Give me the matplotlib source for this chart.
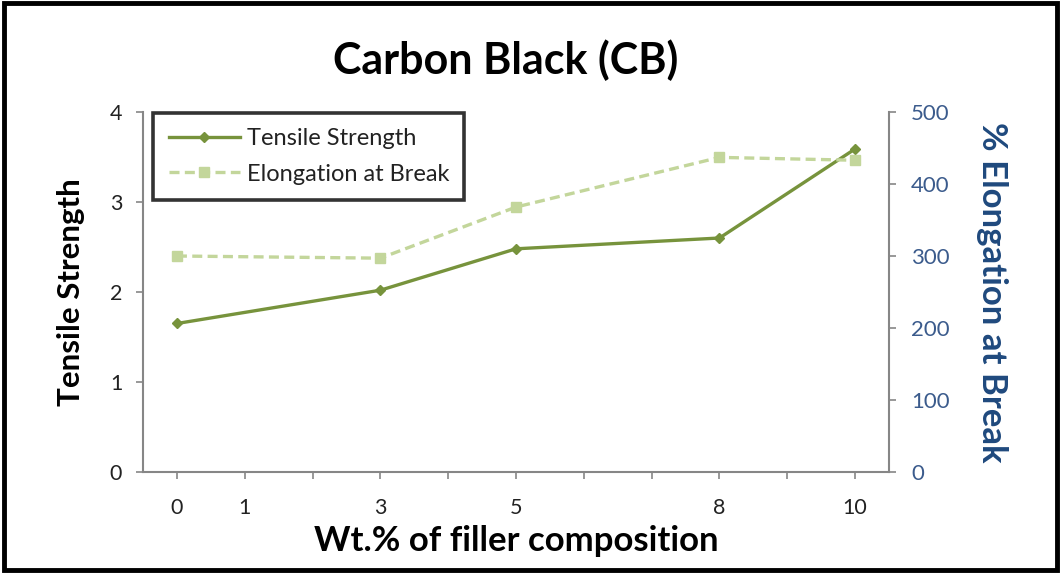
import matplotlib
matplotlib.use("Agg")
import matplotlib.pyplot as plt
from matplotlib.patches import Rectangle

# Data
filler_wt = [0, 3, 5, 8, 10]
tensile = [1.65, 2.02, 2.48, 2.60, 3.59]
elongation = [300, 297, 368, 437, 433]

x_ticks = list(range(0, 11))
x_labels = ["0", "1", "", "3", "", "5", "", "", "8", "", "10"]
left_ticks = [0, 1, 2, 3, 4]
right_ticks = [0, 100, 200, 300, 400, 500]

plt.rcParams['font.family'] = ['Lato', 'DejaVu Sans']

fig = plt.figure(figsize=(10.61, 5.73), dpi=100)
ax = fig.add_axes([0.1348, 0.1763, 0.7031, 0.6282])
ax2 = ax.twinx()

tensile_color = "#77933C"
elong_color = "#C3D69B"
grey = "#868686"
blue = "#1F497D"

l1, = ax.plot(filler_wt, tensile, color=tensile_color, lw=2.4, marker="D", ms=5.5,
              label="Tensile Strength", zorder=3)
l2, = ax2.plot(filler_wt, elongation, color=elong_color, lw=2.4, ls=(0, (3, 1.6)),
               marker="s", ms=7, label="Elongation at Break", zorder=2)

ax.set_xlim(-0.5, 10.5)
ax.set_ylim(0, 4)
ax2.set_ylim(0, 500)
ax.set_xticks(x_ticks)
ax.set_xticklabels(x_labels, fontsize=15.5, color="#333333")
ax.set_yticks(left_ticks)
ax.tick_params(axis="y", labelsize=15.5, colors=grey, labelcolor="#222222", length=5, width=1.2, pad=10)
ax.tick_params(axis="x", colors=grey, labelcolor="#222222", length=5, width=1.2, pad=14)
ax2.set_yticks(right_ticks)
ax2.tick_params(axis="y", labelsize=16, colors=grey, labelcolor="#3B5B8C", length=5, width=1.2, pad=11)

for a in (ax, ax2):
    for s in a.spines.values():
        s.set_visible(False)
ax.spines["left"].set_visible(True)
ax.spines["bottom"].set_visible(True)
ax2.spines["right"].set_visible(True)
for a, k in ((ax, "left"), (ax, "bottom"), (ax2, "right")):
    a.spines[k].set_color(grey)
    a.spines[k].set_linewidth(1.5)

fig.text(0.477, 0.895, "Carbon Black (CB)", fontsize=31, fontweight="bold",
         ha="center", va="center", color="black")
ax.set_xlabel("Wt.% of filler composition", fontsize=25, fontweight="bold", labelpad=5)
ax.set_ylabel("Tensile Strength", fontsize=22.5, fontweight="bold", labelpad=18)
ax2.set_ylabel("% Elongation at Break", fontsize=25, fontweight="bold", color=blue,
               rotation=270, labelpad=42)

leg = ax.legend(handles=[l1, l2], loc="upper left", bbox_to_anchor=(-0.002, 1.03),
                fontsize=17, frameon=True, fancybox=False, borderpad=0.65,
                handlelength=3.0, handletextpad=0.3, labelspacing=0.6, edgecolor="black")
leg.get_frame().set_linewidth(2.6)
for t in leg.get_texts():
    t.set_color("#222222")

# outer chart border
fig.patches.append(Rectangle((0.004, 0.006), 0.992, 0.988, transform=fig.transFigure,
                             fill=False, edgecolor="black", lw=3.5))

fig.savefig("out.png", dpi=100)
